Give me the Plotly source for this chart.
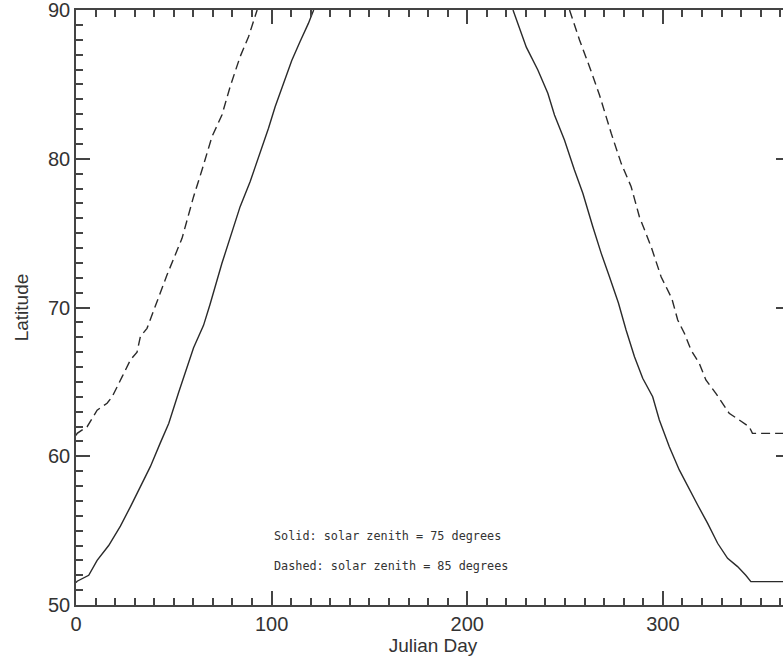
import plotly.graph_objects as go

# Solar zenith 75 deg (solid): Julian day vs latitude
solid_day = [0, 0.6, 6.5, 10.8, 16.7, 22.7, 27.8, 32.9, 38.0, 43.1, 47.4, 52.5, 56.7, 60.1, 65.2,
             68.5, 74.6, 79.7, 83.9, 89.0, 94.1, 98.4, 101.8, 106.9, 110.3, 114.5, 118.8, 121.5,
             None,
             223.4, 230.2, 236.1, 241.2, 244.6, 249.7, 254.8, 259.1, 264.2, 268.5, 272.7, 277.3,
             281.2, 285.5, 289.7, 294.8, 298.2, 303.3, 308.4, 312.7, 317.8, 322.9, 328.0, 333.1,
             338.2, 342.4, 345.0, 365]
solid_lat = [51.5, 51.6, 52.0, 53.0, 54.0, 55.3, 56.6, 57.95, 59.3, 60.9, 62.2, 64.3, 65.9, 67.3, 68.8,
             70.2, 72.97, 74.99, 76.78, 78.46, 80.37, 82.05, 83.5, 85.3, 86.6, 87.87, 89.1, 90.0,
             None,
             90.0, 87.5, 85.97, 84.4, 82.94, 81.26, 79.24, 77.68, 75.43, 73.64, 72.07, 70.3,
             68.49, 66.69, 65.24, 64.0, 62.44, 60.64, 59.08, 57.95, 56.72, 55.49, 54.15, 53.14,
             52.58, 52.0, 51.57, 51.57]

# Solar zenith 85 deg (dashed)
dash_day = [0, 0.6, 5.7, 10.8, 15.9, 18.5, 23.6, 27.8, 31.2, 32.9, 36.3, 41.0, 46.5, 54.2,
            60.1, 64.4, 69.5, 74.6, 78.8, 83.9, 88.2, 92.6,
            None,
            252.3, 257.4, 262.5, 267.6, 273.6, 278.7, 283.8, 288.0, 294.0, 299.1, 304.6,
            307.6, 311.0, 314.4, 318.6, 322.0, 327.1, 330.5, 333.9, 339.0, 344.1, 345.8, 365]
dash_lat = [61.4, 61.54, 61.99, 63.1, 63.56, 64.0, 65.35, 66.47, 67.0, 68.04, 68.6, 70.3, 72.18, 74.65,
            77.45, 79.24, 81.48, 82.94, 84.85, 86.86, 88.2, 90.0,
            None,
            90.0, 87.98, 86.19, 84.29, 81.71, 79.69, 78.12, 76.1, 74.09, 72.07, 70.6,
            69.16, 68.27, 67.14, 66.25, 65.13, 64.23, 63.56, 62.89, 62.44, 61.99, 61.54, 61.54]

x_ticks = [0, 100, 200, 300]
y_ticks = [50, 60, 70, 80, 90]
notes = ["Solid: solar zenith = 75 degrees", "Dashed: solar zenith = 85 degrees"]
note_pos = [(100, 54.65), (100, 52.62)]

ink = "#2a2a2a"
axc = "#444444"
txtc = "#333333"
sans = "Liberation Sans, Arial"

fig = go.Figure()
fig.add_trace(go.Scatter(x=solid_day, y=solid_lat, mode="lines",
                         line=dict(color=ink, width=1.4), connectgaps=False,
                         showlegend=False, hoverinfo="skip"))
fig.add_trace(go.Scatter(x=dash_day, y=dash_lat, mode="lines",
                         line=dict(color=ink, width=1.4, dash="9px,5px"), connectgaps=False,
                         showlegend=False, hoverinfo="skip"))

for txt, (xx, yy) in zip(notes, note_pos):
    fig.add_annotation(x=xx, y=yy, text=txt, showarrow=False, xanchor="left", yanchor="middle",
                       font=dict(family="DejaVu Sans Mono", size=11.8, color=txtc))

axis_common = dict(showgrid=False, zeroline=False, showline=True, linecolor=axc, linewidth=1.5,
                   mirror="ticks", ticks="inside", tickcolor=axc, tickwidth=1.5, automargin=False,
                   ticklabeloverflow="allow",
                   tickfont=dict(family=sans, size=20, color=txtc))

fig.update_xaxes(range=[0, 365], tickvals=x_ticks, ticklen=14,
                 minor=dict(dtick=10, tick0=0, ticks="inside", ticklen=7, tickcolor=axc, tickwidth=1.5),
                 title=dict(text="Julian Day", standoff=0,
                            font=dict(family=sans, size=19, color=txtc)),
                 **axis_common)
fig.update_yaxes(range=[50, 90], tickvals=y_ticks, ticklen=14,
                 minor=dict(dtick=1, tick0=50, ticks="inside", ticklen=7, tickcolor=axc, tickwidth=1.5),
                 title=dict(text="Latitude", standoff=14,
                            font=dict(family=sans, size=19, color=txtc)),
                 **axis_common)

fig.update_layout(width=800, height=660, margin=dict(l=76, r=10, t=10, b=55),
                  paper_bgcolor="white", plot_bgcolor="white")

fig.write_html("out.html", config={"displayModeBar": False},
               post_script="document.body.style.margin='0';document.body.style.overflow='hidden';document.documentElement.style.overflow='hidden';")
